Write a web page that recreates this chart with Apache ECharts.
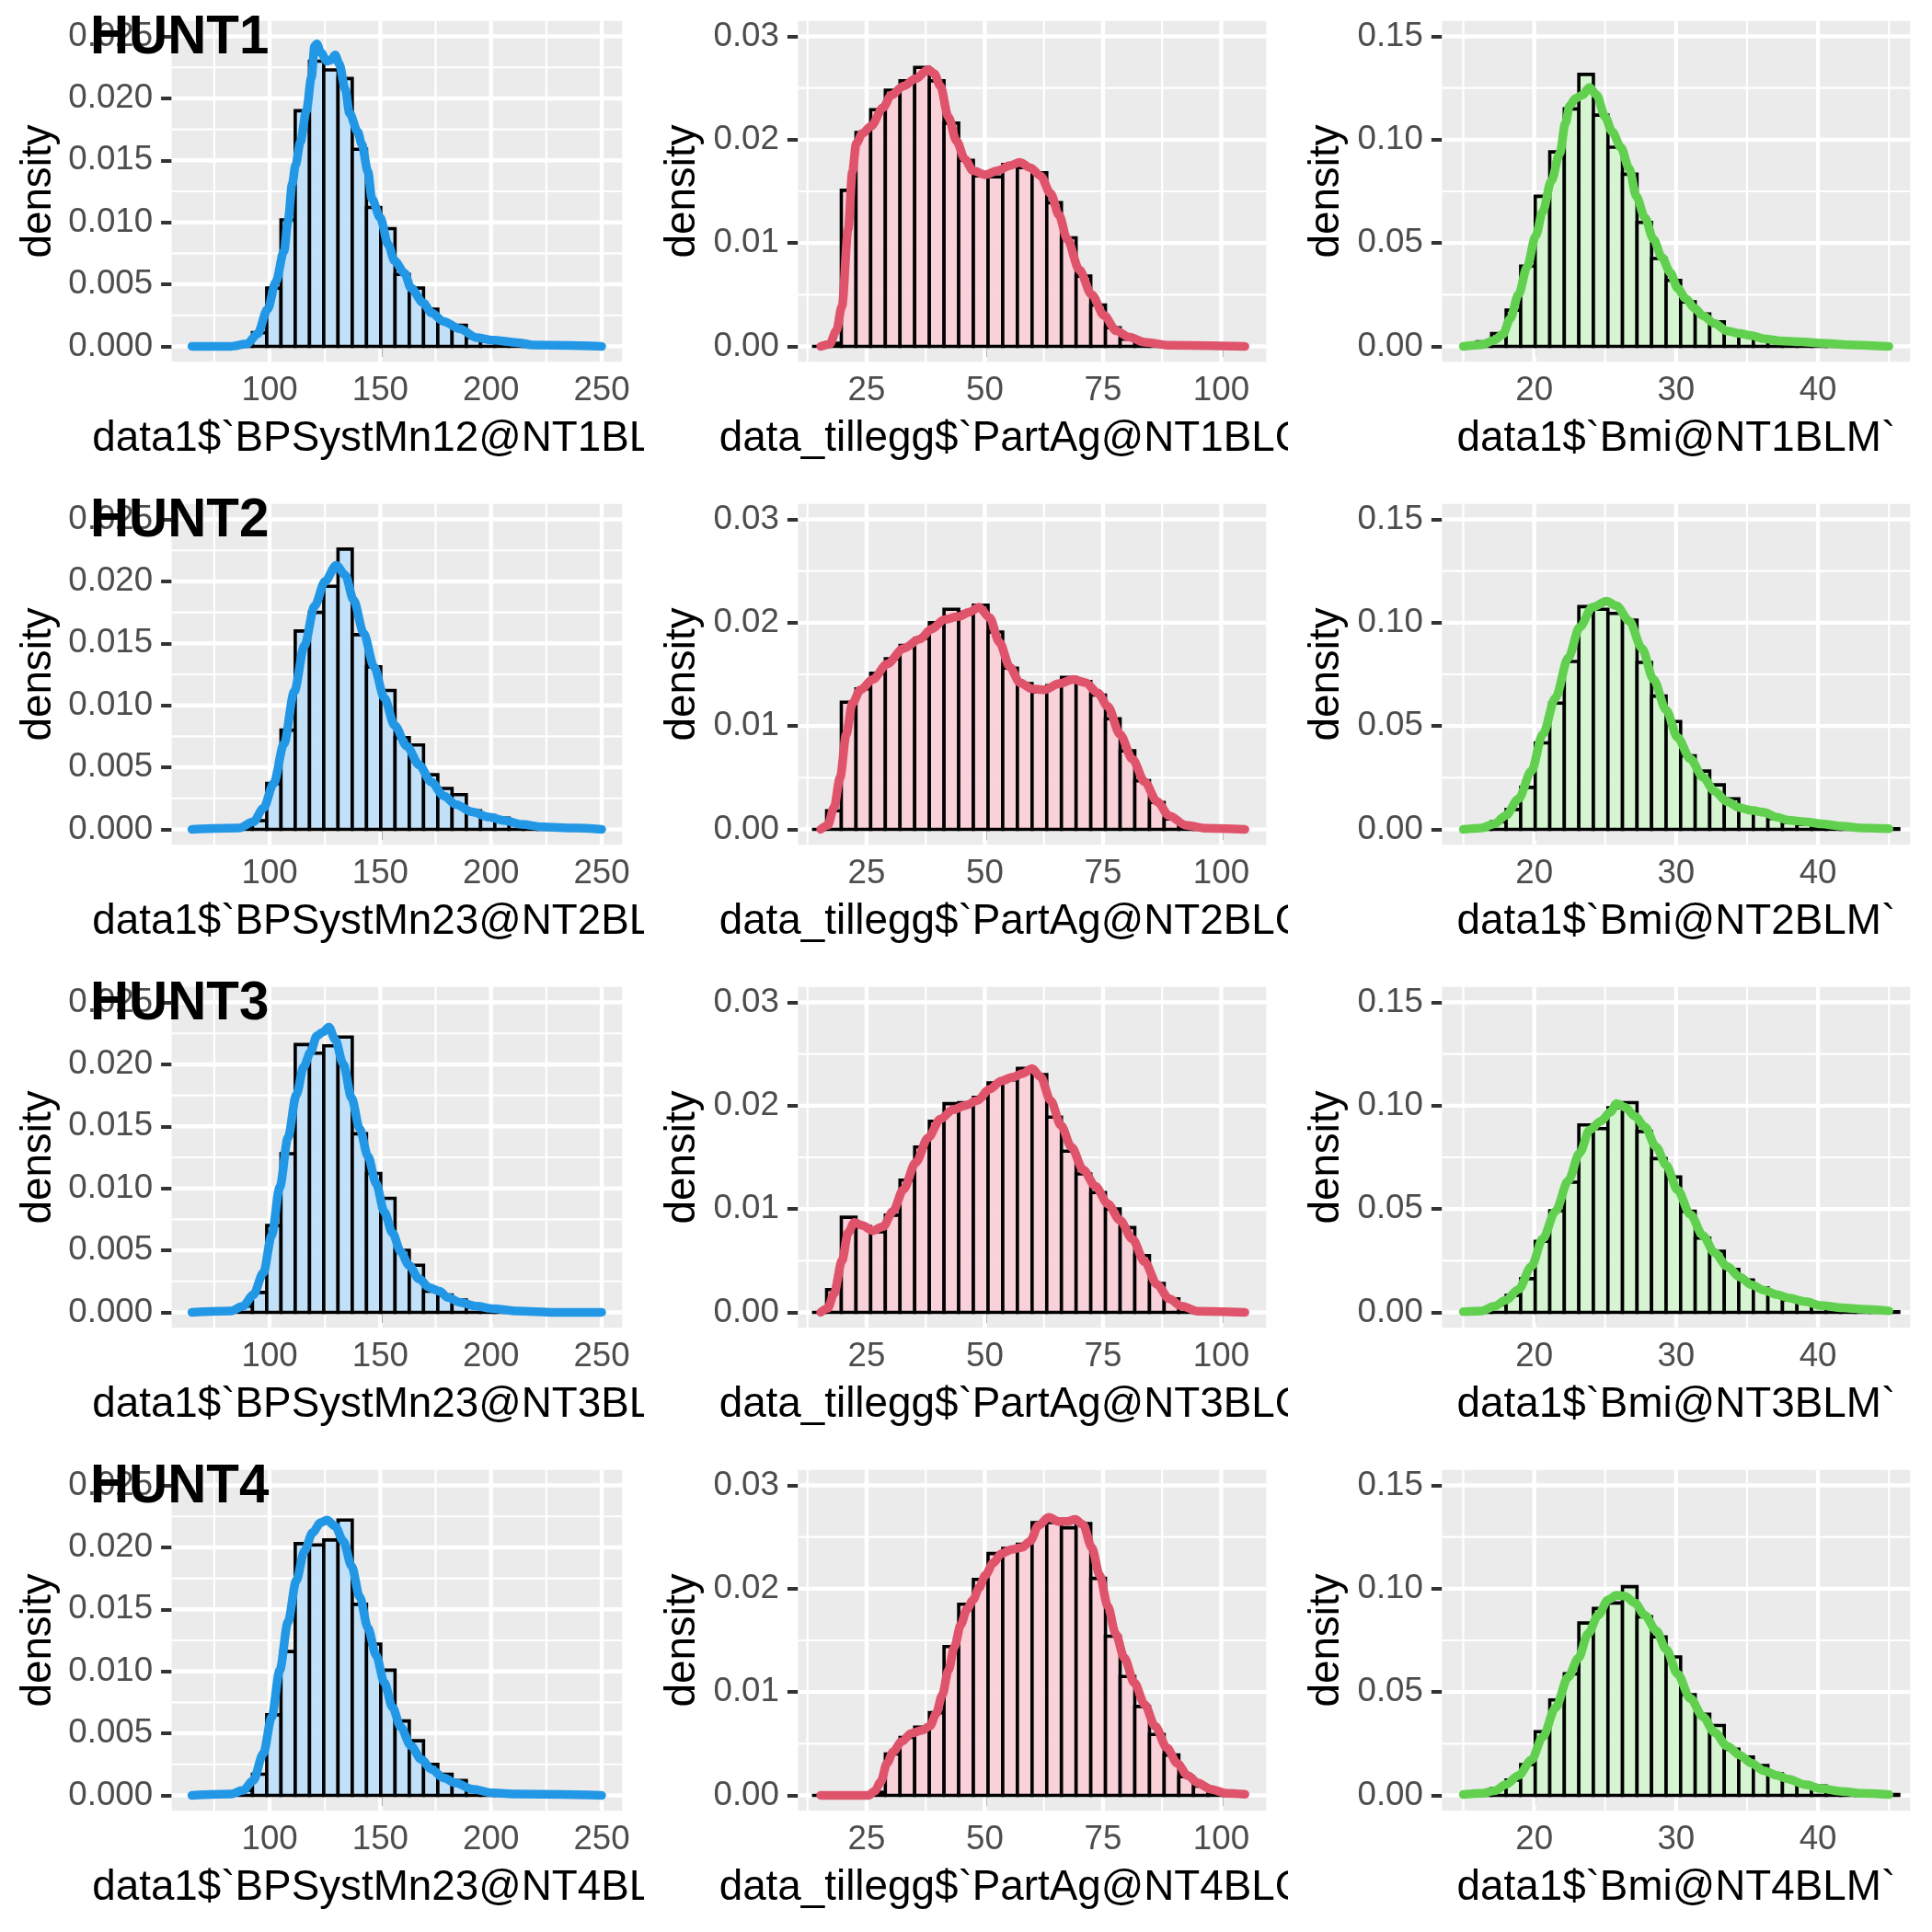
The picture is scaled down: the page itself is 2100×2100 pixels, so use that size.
<!DOCTYPE html>
<html>
<head>
<meta charset="utf-8">
<script src="https://cdn.jsdelivr.net/npm/echarts@6.0.0/dist/echarts.min.js"></script>
<style>
html, body { margin: 0; padding: 0; background: #fff; }
#wrap { position: relative; width: 2100px; height: 2100px; }
.cell { position: absolute; width: 700px; height: 525px; overflow: hidden; }
</style>
</head>
<body>
<div id="wrap"></div>
<script>
// ---- labels ----
var huntLabels = ['HUNT1', 'HUNT2', 'HUNT3', 'HUNT4'];
var bpTitles = ['data1$`BPSystMn12@NT1BLM`', 'data1$`BPSystMn23@NT2BLM`', 'data1$`BPSystMn23@NT3BLM`', 'data1$`BPSystMn23@NT4BLM`'];
var ageTitles = ['data_tillegg$`PartAg@NT1BLQ1`', 'data_tillegg$`PartAg@NT2BLQ1`', 'data_tillegg$`PartAg@NT3BLQ1`', 'data_tillegg$`PartAg@NT4BLQ1`'];
var bmiTitles = ['data1$`Bmi@NT1BLM`', 'data1$`Bmi@NT2BLM`', 'data1$`Bmi@NT3BLM`', 'data1$`Bmi@NT4BLM`'];

// ---- ticks ----
var bpXTicks = [100, 150, 200, 250];
var bpXMinor = [75, 125, 175, 225];
var bpYTicks = [0, 0.005, 0.01, 0.015, 0.02, 0.025];
var bpYMinor = [0.0025, 0.0075, 0.0125, 0.0175, 0.0225];
var ageXTicks = [25, 50, 75, 100];
var ageXMinor = [12.5, 37.5, 62.5, 87.5];
var ageYTicks = [0, 0.01, 0.02, 0.03];
var ageYMinor = [0.005, 0.015, 0.025];
var bmiXTicks = [20, 30, 40];
var bmiXMinor = [15, 25, 35, 45];
var bmiYTicks = [0, 0.05, 0.1, 0.15];
var bmiYMinor = [0.025, 0.075, 0.125];

// ---- histogram bins (left edge of first listed bin, bin width) ----
var bpBinStart = 85.8, bpBinWidth = 6.44;
var ageBinStart = 13.45, ageBinWidth = 3.103;
var bmiBinStart = 15.97, bmiBinWidth = 1.025;

// ---- histogram heights (density) ----
var bpHist1 = [0.0002, 0.0011, 0.0047, 0.0102, 0.0190, 0.0230, 0.0223, 0.0216, 0.0159, 0.0112, 0.0095, 0.0058, 0.0047, 0.0030, 0.0019, 0.0017, 0.0007, 0.0004, 0.0002, 0.0001, 0.0001];
var bpHist2 = [0.0001, 0.0007, 0.0037, 0.0080, 0.0160, 0.0175, 0.0196, 0.0226, 0.0157, 0.0131, 0.0112, 0.0074, 0.0068, 0.0044, 0.0033, 0.0028, 0.0015, 0.0011, 0.0009, 0.0004, 0.0002, 0.0001];
var bpHist3 = [0.0005, 0.0016, 0.0070, 0.0128, 0.0216, 0.0209, 0.0215, 0.0222, 0.0144, 0.0112, 0.0092, 0.0050, 0.0038, 0.0017, 0.0014, 0.0010, 0.0004, 0.0002, 0.0001];
var bpHist4 = [0.0004, 0.0017, 0.0065, 0.0116, 0.0203, 0.0202, 0.0206, 0.0222, 0.0154, 0.0122, 0.0101, 0.0060, 0.0044, 0.0025, 0.0017, 0.0012, 0.0005, 0.0002, 0.0001];

var ageHist1 = [0, 0.0003, 0.0151, 0.0207, 0.0229, 0.0248, 0.0257, 0.0270, 0.0257, 0.0216, 0.0180, 0.0165, 0.0164, 0.0176, 0.0173, 0.0168, 0.0139, 0.0105, 0.0068, 0.0040, 0.0018, 0.0007, 0.0002, 0.0001];
var ageHist2 = [0, 0.0018, 0.0123, 0.0136, 0.0151, 0.0165, 0.0178, 0.0185, 0.0200, 0.0213, 0.0210, 0.0217, 0.0191, 0.0156, 0.0141, 0.0133, 0.0139, 0.0147, 0.0143, 0.0130, 0.0107, 0.0076, 0.0047, 0.0026, 0.0010, 0.0003, 0.0001];
var ageHist3 = [0, 0.0022, 0.0092, 0.0083, 0.0078, 0.0094, 0.0128, 0.0160, 0.0185, 0.0202, 0.0203, 0.0208, 0.0222, 0.0225, 0.0236, 0.0230, 0.0189, 0.0156, 0.0134, 0.0116, 0.0100, 0.0082, 0.0055, 0.0028, 0.0013, 0.0004, 0.0001];
var ageHist4 = [0, 0, 0, 0, 0.0003, 0.0040, 0.0056, 0.0066, 0.0080, 0.0144, 0.0185, 0.0209, 0.0234, 0.0239, 0.0243, 0.0264, 0.0264, 0.0259, 0.0263, 0.0210, 0.0154, 0.0115, 0.0086, 0.0059, 0.0039, 0.0018, 0.0009, 0.0003, 0.0001];

var bmiHist1 = [0.0022, 0.0062, 0.0175, 0.0388, 0.0726, 0.0941, 0.1149, 0.1316, 0.1119, 0.0964, 0.0833, 0.0600, 0.0425, 0.0319, 0.0215, 0.0156, 0.0119, 0.0067, 0.0059, 0.0037, 0.0022, 0.0015, 0.0010, 0.0006, 0.0004, 0.0003, 0.0002, 0.0001];
var bmiHist2 = [0.0010, 0.0037, 0.0096, 0.0203, 0.0418, 0.0611, 0.0812, 0.1078, 0.1065, 0.1045, 0.1012, 0.0808, 0.0645, 0.0522, 0.0356, 0.0282, 0.0215, 0.0148, 0.0092, 0.0085, 0.0052, 0.0033, 0.0025, 0.0015, 0.0010, 0.0008, 0.0005, 0.0004, 0.0003];
var bmiHist3 = [0.0012, 0.0037, 0.0082, 0.0163, 0.0344, 0.0492, 0.0630, 0.0907, 0.0889, 0.0990, 0.1015, 0.0875, 0.0744, 0.0655, 0.0489, 0.0359, 0.0296, 0.0208, 0.0156, 0.0119, 0.0086, 0.0059, 0.0052, 0.0030, 0.0018, 0.0012, 0.0008, 0.0005, 0.0003];
var bmiHist4 = [0.0007, 0.0034, 0.0074, 0.0149, 0.0308, 0.0462, 0.0588, 0.0834, 0.0904, 0.0931, 0.1010, 0.0864, 0.0767, 0.0670, 0.0487, 0.0392, 0.0338, 0.0223, 0.0186, 0.0144, 0.0104, 0.0074, 0.0052, 0.0045, 0.0022, 0.0015, 0.0010, 0.0006, 0.0004];

// ---- density curves [x, density] ----
var bpDens1 = [[64.9,0],[82.4,0],[89.8,0.0002],[94.5,0.0010],[99.1,0.0030],[102.8,0.0052],[106.5,0.0077],[108.3,0.0101],[110.2,0.0131],[111.7,0.0146],[113.9,0.0165],[116.6,0.0190],[118.9,0.0217],[120.3,0.0242],[121.3,0.0244],[123.1,0.0237],[125.9,0.0230],[127.7,0.0231],[129.6,0.0235],[131.4,0.0228],[134.2,0.0207],[136.1,0.0188],[139.8,0.0173],[141.6,0.0163],[144.4,0.0141],[146.2,0.0119],[149.9,0.0104],[153.6,0.0082],[156.4,0.0069],[161.0,0.0059],[163.8,0.0047],[169.4,0.0035],[173.1,0.0027],[178.6,0.0020],[186.0,0.0014],[193.4,0.0007],[200.8,0.0005],[211.9,0.0003],[219.3,0.0001],[250,0]];
var bpDens2 = [[64.9,0],[86.1,0.0001],[92.6,0.0006],[97.2,0.0017],[101.8,0.0037],[106.5,0.0069],[111.1,0.0111],[115.7,0.0148],[120.3,0.0180],[125.0,0.0200],[130.1,0.0213],[134.2,0.0205],[137.9,0.0185],[142.5,0.0158],[147.2,0.0131],[151.8,0.0106],[156.4,0.0084],[162.0,0.0067],[167.5,0.0052],[173.1,0.0038],[178.6,0.0027],[184.1,0.0020],[191.5,0.0014],[198.9,0.0010],[206.3,0.0007],[213.7,0.0004],[223.0,0.0002],[237.8,0.0001],[250,0]];
var bpDens3 = [[64.9,0],[82.4,0.0001],[88.0,0.0005],[92.6,0.0014],[97.2,0.0032],[100.9,0.0062],[104.6,0.0101],[108.3,0.0141],[112.0,0.0175],[115.4,0.0198],[118.5,0.0210],[121.3,0.0223],[124.0,0.0226],[126.8,0.0230],[129.6,0.0220],[133.3,0.0200],[137.0,0.0173],[140.7,0.0148],[144.4,0.0126],[148.1,0.0104],[151.8,0.0081],[155.5,0.0064],[159.2,0.0049],[162.9,0.0038],[167.5,0.0027],[172.1,0.0020],[176.8,0.0017],[180.4,0.0012],[186.0,0.0008],[193.4,0.0005],[200.8,0.0003],[211.9,0.0001],[228.5,0],[250,0]];
var bpDens4 = [[64.9,0],[82.4,0.0001],[88.0,0.0004],[92.6,0.0012],[97.2,0.0034],[100.9,0.0063],[104.6,0.0101],[108.3,0.0140],[112.0,0.0173],[115.7,0.0197],[119.4,0.0212],[123.1,0.0220],[125.9,0.0222],[129.6,0.0217],[133.3,0.0205],[137.0,0.0185],[140.7,0.0160],[144.4,0.0135],[148.1,0.0113],[151.8,0.0091],[155.5,0.0071],[159.2,0.0055],[163.8,0.0040],[168.5,0.0029],[173.1,0.0021],[178.6,0.0014],[184.1,0.0010],[191.5,0.0005],[200.8,0.0002],[211.9,0.0001],[250,0]];

var ageDens1 = [[15.3,0],[17.2,0.0002],[18.6,0.0015],[19.8,0.0039],[21.1,0.0113],[22.0,0.0169],[22.8,0.0196],[24.1,0.0206],[25.9,0.0213],[28.5,0.0231],[30.2,0.0243],[32.8,0.0252],[35.4,0.0259],[38.0,0.0268],[39.3,0.0264],[40.6,0.0252],[42.3,0.0222],[44.0,0.0199],[45.8,0.0181],[47.5,0.0170],[50.1,0.0166],[52.7,0.0170],[55.3,0.0175],[57.4,0.0178],[59.6,0.0173],[61.8,0.0165],[63.9,0.0148],[65.7,0.0127],[67.4,0.0104],[70.0,0.0074],[72.6,0.0050],[75.2,0.0030],[77.8,0.0015],[80.4,0.0009],[83.8,0.0004],[89.0,0.0001],[105,0]];
var ageDens2 = [[15.3,0],[16.8,0.0004],[18.1,0.0021],[19.4,0.0050],[20.7,0.0092],[22.0,0.0122],[23.7,0.0135],[26.3,0.0145],[29.3,0.0160],[32.8,0.0175],[36.2,0.0184],[38.8,0.0194],[41.4,0.0203],[44.5,0.0206],[46.6,0.0210],[48.8,0.0215],[51.0,0.0205],[53.1,0.0181],[55.3,0.0157],[57.4,0.0142],[60.0,0.0136],[62.6,0.0135],[65.7,0.0141],[68.7,0.0145],[71.3,0.0142],[73.9,0.0132],[76.0,0.0119],[78.6,0.0092],[81.2,0.0068],[83.8,0.0046],[86.4,0.0027],[89.0,0.0013],[92.5,0.0004],[96.8,0.0001],[105,0]];
var ageDens3 = [[15.3,0],[16.8,0.0004],[18.1,0.0018],[19.8,0.0050],[21.1,0.0077],[22.4,0.0087],[24.1,0.0084],[26.3,0.0079],[28.5,0.0083],[30.6,0.0098],[32.8,0.0119],[35.4,0.0145],[38.0,0.0169],[40.6,0.0187],[43.2,0.0196],[45.8,0.0200],[48.4,0.0205],[51.0,0.0216],[53.5,0.0224],[56.1,0.0228],[57.9,0.0231],[60.0,0.0236],[61.8,0.0228],[63.9,0.0205],[66.1,0.0181],[68.3,0.0160],[70.8,0.0138],[73.4,0.0122],[76.0,0.0105],[78.6,0.0089],[81.2,0.0071],[83.8,0.0049],[86.4,0.0027],[89.0,0.0013],[91.6,0.0006],[95.1,0.0001],[105,0]];
var ageDens4 = [[15.3,0],[25.4,0],[26.7,0.0004],[28.0,0.0013],[29.3,0.0031],[30.6,0.0042],[32.4,0.0052],[34.5,0.0060],[36.7,0.0063],[38.4,0.0067],[39.7,0.0079],[41.0,0.0097],[42.3,0.0121],[43.6,0.0144],[44.9,0.0165],[46.2,0.0180],[47.5,0.0189],[48.8,0.0201],[50.1,0.0213],[51.8,0.0225],[53.5,0.0234],[55.7,0.0238],[57.9,0.0240],[59.6,0.0246],[61.3,0.0261],[63.5,0.0269],[65.7,0.0265],[67.4,0.0265],[69.1,0.0267],[70.8,0.0262],[72.6,0.0240],[74.3,0.0213],[76.0,0.0183],[77.7,0.0156],[79.5,0.0133],[81.6,0.0109],[83.8,0.0088],[86.0,0.0067],[88.5,0.0046],[90.7,0.0031],[92.9,0.0019],[95.1,0.0012],[97.7,0.0006],[101.1,0.0002],[105,0.0001]];

var bmiDens1 = [[15.0,0],[16.3,0.0008],[17.2,0.0030],[17.8,0.0059],[18.3,0.0133],[18.9,0.0252],[19.5,0.0385],[20.1,0.0534],[20.6,0.0652],[21.2,0.0800],[21.8,0.0934],[22.2,0.1080],[22.5,0.1164],[22.9,0.1200],[23.4,0.1216],[23.9,0.1253],[24.4,0.1216],[25.0,0.1110],[25.5,0.1038],[26.1,0.0964],[26.7,0.0860],[27.2,0.0726],[27.8,0.0623],[28.4,0.0519],[29.0,0.0430],[29.6,0.0356],[30.1,0.0282],[30.7,0.0230],[31.3,0.0185],[31.9,0.0148],[32.7,0.0111],[33.6,0.0074],[34.5,0.0062],[35.3,0.0052],[36.2,0.0037],[37.3,0.0027],[38.8,0.0022],[40.2,0.0015],[42.5,0.0007],[45,0]];
var bmiDens2 = [[15.0,0],[16.3,0.0007],[17.2,0.0027],[18.0,0.0067],[18.9,0.0148],[19.8,0.0282],[20.6,0.0460],[21.5,0.0637],[22.4,0.0830],[23.2,0.0978],[24.1,0.1075],[25.1,0.1104],[25.8,0.1082],[26.7,0.1008],[27.6,0.0875],[28.4,0.0726],[29.3,0.0578],[30.1,0.0445],[31.0,0.0341],[31.9,0.0252],[32.7,0.0185],[33.6,0.0133],[34.5,0.0104],[35.3,0.0092],[36.2,0.0082],[37.1,0.0059],[37.9,0.0044],[39.1,0.0037],[40.2,0.0027],[41.7,0.0015],[43.1,0.0007],[45,0.0003]];
var bmiDens3 = [[15.0,0.0003],[16.3,0.0007],[17.2,0.0030],[18.0,0.0059],[18.9,0.0111],[19.8,0.0222],[20.6,0.0356],[21.5,0.0489],[22.4,0.0637],[23.2,0.0771],[23.9,0.0882],[24.7,0.0926],[25.4,0.0971],[25.8,0.1011],[26.4,0.0993],[27.1,0.0949],[27.8,0.0897],[28.6,0.0800],[29.3,0.0712],[30.1,0.0593],[31.0,0.0474],[31.9,0.0371],[32.7,0.0289],[33.6,0.0222],[34.5,0.0170],[35.3,0.0133],[36.2,0.0107],[37.1,0.0086],[37.9,0.0070],[39.1,0.0052],[40.2,0.0033],[41.7,0.0022],[43.1,0.0015],[45,0.0007]];
var bmiDens4 = [[15.0,0.0004],[16.3,0.0010],[17.2,0.0022],[18.0,0.0052],[18.9,0.0097],[19.8,0.0171],[20.6,0.0283],[21.5,0.0424],[22.4,0.0573],[23.1,0.0663],[23.8,0.0782],[24.5,0.0871],[25.2,0.0946],[25.8,0.0968],[26.4,0.0964],[27.1,0.0931],[27.8,0.0871],[28.6,0.0797],[29.3,0.0707],[30.1,0.0588],[31.0,0.0469],[31.9,0.0380],[32.7,0.0305],[33.6,0.0238],[34.5,0.0194],[35.3,0.0156],[36.2,0.0119],[37.1,0.0097],[37.9,0.0079],[39.1,0.0052],[40.2,0.0033],[41.7,0.0019],[43.1,0.0010],[45,0.0004]];

// ---- panel setup ----
var FONT = '"Liberation Sans", Arial, sans-serif';
var plotRight = 23.7, plotTop = 22.7, plotBottom = 131.7;

var columns = [
    { xMin: 55.75, xMax: 259.25, yMin: -0.00125, yMax: 0.02625,
      xTicks: bpXTicks, xMinor: bpXMinor, yTicks: bpYTicks, yMinor: bpYMinor, digits: 3,
      binStart: bpBinStart, binWidth: bpBinWidth,
      hists: [bpHist1, bpHist2, bpHist3, bpHist4], dens: [bpDens1, bpDens2, bpDens3, bpDens4],
      titles: bpTitles, line: '#2297E6', fill: 'rgba(190,224,248,0.92)', left: 186.6 },
    { xMin: 10.5, xMax: 109.5, yMin: -0.0015, yMax: 0.0315,
      xTicks: ageXTicks, xMinor: ageXMinor, yTicks: ageYTicks, yMinor: ageYMinor, digits: 2,
      binStart: ageBinStart, binWidth: ageBinWidth,
      hists: [ageHist1, ageHist2, ageHist3, ageHist4], dens: [ageDens1, ageDens2, ageDens3, ageDens4],
      titles: ageTitles, line: '#DF536B', fill: 'rgba(250,206,215,0.92)', left: 167.4 },
    { xMin: 13.5, xMax: 46.5, yMin: -0.0075, yMax: 0.1575,
      xTicks: bmiXTicks, xMinor: bmiXMinor, yTicks: bmiYTicks, yMinor: bmiYMinor, digits: 2,
      binStart: bmiBinStart, binWidth: bmiBinWidth,
      hists: [bmiHist1, bmiHist2, bmiHist3, bmiHist4], dens: [bmiDens1, bmiDens2, bmiDens3, bmiDens4],
      titles: bmiTitles, line: '#61D04F', fill: 'rgba(212,244,206,0.92)', left: 167.4 }
];

function gridLineData(col) {
    var out = [];
    col.xMinor.forEach(function (v) { out.push([v, 0, 0, 0]); });
    col.yMinor.forEach(function (v) { out.push([col.xMin, v, 1, 0]); });
    col.xTicks.forEach(function (v) { out.push([v, 0, 0, 1]); });
    col.yTicks.forEach(function (v) { out.push([col.xMin, v, 1, 1]); });
    return out;
}

function renderGridLine(params, api) {
    var cs = params.coordSys;
    var p = api.coord([api.value(0), api.value(1)]);
    var shape;
    if (api.value(2) === 0) {
        shape = { x1: p[0], y1: cs.y, x2: p[0], y2: cs.y + cs.height };
    } else {
        shape = { x1: cs.x, y1: p[1], x2: cs.x + cs.width, y2: p[1] };
    }
    return {
        type: 'line', shape: shape,
        style: { stroke: '#FFFFFF', lineWidth: api.value(3) ? 4.4 : 2.2 }
    };
}

function makeBarRenderer(fill) {
    return function (params, api) {
        var a = api.coord([api.value(0), api.value(2)]);
        var b = api.coord([api.value(1), 0]);
        return {
            type: 'rect',
            shape: { x: a[0], y: a[1], width: b[0] - a[0], height: b[1] - a[1] },
            style: { fill: fill, stroke: '#000000', lineWidth: 3.6 }
        };
    };
}

var wrap = document.getElementById('wrap');

for (var r = 0; r < 4; r++) {
    for (var c = 0; c < 3; c++) {
        var col = columns[c];
        var div = document.createElement('div');
        div.className = 'cell';
        div.style.left = (c * 700) + 'px';
        div.style.top = (r * 525) + 'px';
        wrap.appendChild(div);

        var bins = col.hists[r].map(function (h, i) {
            var x0 = col.binStart + i * col.binWidth;
            return [x0, x0 + col.binWidth, h];
        });

        var plotCenterX = col.left + (700 - col.left - plotRight) / 2;
        var plotCenterY = plotTop + (525 - plotTop - plotBottom) / 2;

        var graphics = [
            { type: 'text', x: 42, y: plotCenterY, rotation: Math.PI / 2, z: 100,
              style: { text: 'density', fontSize: 45.8, fontFamily: FONT, fill: '#000',
                       align: 'center', verticalAlign: 'middle' } },
            { type: 'text', x: plotCenterX, y: 477, z: 100,
              style: { text: col.titles[r], fontSize: 45.8, fontFamily: FONT, fill: '#000',
                       align: 'center', verticalAlign: 'middle' } }
        ];
        if (c === 0) {
            graphics.push({ type: 'text', x: 98, y: 42, z: 100,
              style: { text: huntLabels[r], fontSize: 58.3, fontWeight: 'bold', fontFamily: FONT,
                       fill: '#000', align: 'left', verticalAlign: 'middle' } });
        }

        var chart = echarts.init(div, null, { renderer: 'canvas' });
        chart.setOption({
            animation: false,
            backgroundColor: '#FFFFFF',
            grid: {
                left: col.left, right: plotRight, top: plotTop, bottom: plotBottom,
                show: true, backgroundColor: '#EBEBEB', borderWidth: 0
            },
            xAxis: {
                type: 'value', min: col.xMin, max: col.xMax,
                axisLine: { show: false },
                splitLine: { show: false },
                axisTick: { show: true, length: 11.5, customValues: col.xTicks,
                            lineStyle: { color: '#333333', width: 4 } },
                axisLabel: { customValues: col.xTicks, margin: 13, fontSize: 36.7,
                             color: '#4D4D4D', fontFamily: FONT }
            },
            yAxis: {
                type: 'value', min: col.yMin, max: col.yMax,
                axisLine: { show: false },
                splitLine: { show: false },
                axisTick: { show: true, length: 11.5, customValues: col.yTicks,
                            lineStyle: { color: '#333333', width: 4 } },
                axisLabel: { customValues: col.yTicks, margin: 20.5, fontSize: 36.7,
                             color: '#4D4D4D', fontFamily: FONT,
                             formatter: (function (d) { return function (v) { return v.toFixed(d); }; })(col.digits) }
            },
            graphic: graphics,
            series: [
                {
                    type: 'custom', silent: true, z: 1,
                    renderItem: renderGridLine,
                    encode: { x: 0, y: 1 },
                    data: gridLineData(col)
                },
                {
                    type: 'custom', silent: true, z: 2,
                    renderItem: makeBarRenderer(col.fill),
                    encode: { x: [0, 1], y: 2 },
                    data: bins
                },
                {
                    type: 'line', silent: true, z: 3,
                    data: col.dens[r],
                    showSymbol: false,
                    smooth: 0.3,
                    smoothMonotone: 'x',
                    lineStyle: { color: col.line, width: 9.5, cap: 'round', join: 'round' }
                }
            ]
        });
    }
}
</script>
</body>
</html>
